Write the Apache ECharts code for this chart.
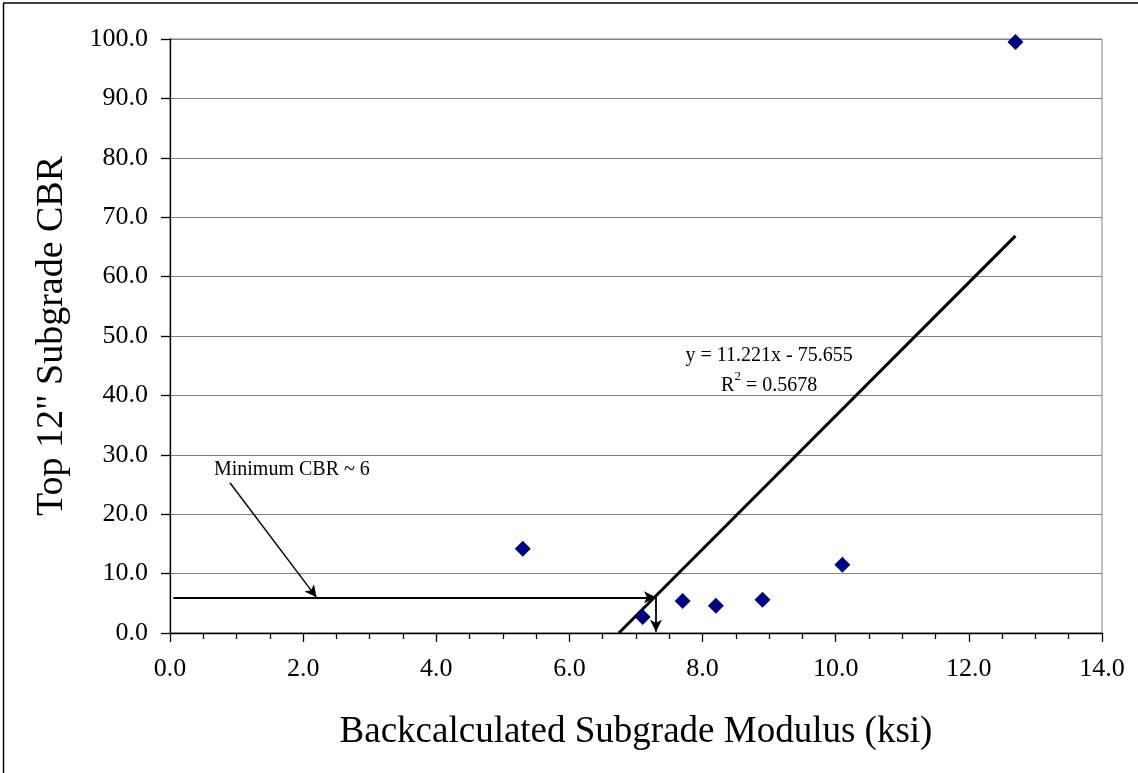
<!DOCTYPE html>
<html>
<head>
<meta charset="utf-8">
<style>
  html, body { margin: 0; padding: 0; background: #fff; }
  #chart { width: 1138px; height: 773px; }
</style>
<script src="https://cdn.jsdelivr.net/npm/echarts@6/dist/echarts.min.js"></script>
</head>
<body>
<div id="chart"></div>
<script>
// ---- data ----
const modulusKsi = [5.3, 7.1, 7.7, 8.2, 8.9, 10.1, 12.7];
const cbrValues  = [14.2, 2.7, 5.4, 4.6, 5.6, 11.5, 99.5];
const trendSlope = 11.221;
const trendIntercept = -75.655;
const trendXEnd = 12.7;
const rSquared = 0.5678;
const minimumCbr = 6;
const minimumCbrModulus = 7.3;
const xAxisTitle = 'Backcalculated Subgrade Modulus (ksi)';
const yAxisTitle = 'Top 12" Subgrade CBR';
const noteText = 'Minimum CBR ~ 6';
const noteArrowStart = [0.9, 25.3];
const noteArrowEnd = [2.2, 6];

const FONT = '"Liberation Serif", "Times New Roman", serif';

const trendXStart = -trendIntercept / trendSlope;
const trendData = [
  [trendXStart, trendSlope * trendXStart + trendIntercept],
  [trendXEnd, trendSlope * trendXEnd + trendIntercept]
];

const chart = echarts.init(document.getElementById('chart'), null, { renderer: 'canvas' });

const option = {
  animation: false,
  backgroundColor: '#ffffff',
  grid: {
    left: 170, right: 36, top: 39, bottom: 140,
    show: true, borderColor: '#808080', borderWidth: 1, backgroundColor: 'transparent'
  },
  xAxis: {
    type: 'value', min: 0, max: 14, interval: 2,
    name: xAxisTitle, nameLocation: 'middle', nameGap: 81,
    nameTextStyle: { fontFamily: FONT, fontSize: 37, color: '#000' },
    axisLine: { show: true, onZero: false, lineStyle: { color: '#000', width: 1.3 } },
    axisTick: { show: true, length: 9, lineStyle: { color: '#000', width: 1.3 } },
    minorTick: { show: true, splitNumber: 4, length: 6, lineStyle: { color: '#000', width: 1.3 } },
    axisLabel: { fontFamily: FONT, fontSize: 26, color: '#000', margin: 23,
      formatter: v => v.toFixed(1) },
    splitLine: { show: false }
  },
  yAxis: {
    type: 'value', min: 0, max: 100, interval: 10,
    name: yAxisTitle, nameLocation: 'middle', nameGap: 99, nameRotate: 90,
    nameTextStyle: { fontFamily: FONT, fontSize: 38, color: '#000' },
    axisLine: { show: true, onZero: false, lineStyle: { color: '#000', width: 1.3 } },
    axisTick: { show: true, length: 9, lineStyle: { color: '#000', width: 1.3 } },
    axisLabel: { fontFamily: FONT, fontSize: 26, color: '#000', margin: 22,
      formatter: v => v.toFixed(1) },
    splitLine: { show: true, lineStyle: { color: '#808080', width: 1 } }
  },
  series: [
    {
      name: 'Trend', type: 'line', data: trendData, showSymbol: false, symbol: 'none',
      lineStyle: { color: '#000', width: 3 }, z: 3, silent: true,
      markLine: {
        silent: true, animation: false,
        label: { show: false },
        lineStyle: { color: '#000', width: 1.8, type: 'solid' },
        symbolSize: [9, 12],
        data: [
          [ { coord: [0.05, minimumCbr], symbol: 'none' },
            { coord: [minimumCbrModulus, minimumCbr], symbol: 'arrow' } ],
          [ { coord: [minimumCbrModulus, minimumCbr], symbol: 'none' },
            { coord: [minimumCbrModulus, 0.2], symbol: 'arrow' } ],
          [ { coord: noteArrowStart, symbol: 'none', lineStyle: { width: 1.4 } },
            { coord: noteArrowEnd, symbol: 'arrow' } ]
        ]
      }
    },
    {
      name: 'CBR', type: 'scatter', symbol: 'diamond', symbolSize: 16,
      itemStyle: { color: '#000080', opacity: 1 },
      data: modulusKsi.map((x, i) => [x, cbrValues[i]]), z: 4
    }
  ]
};

chart.setOption(option);

// annotations positioned through the chart's coordinate system
const eqPos = chart.convertToPixel({ gridIndex: 0 }, [9.0, 44.2]);
const notePos = chart.convertToPixel({ gridIndex: 0 }, [0.66, 27.5]);
const sign = trendIntercept < 0 ? '-' : '+';
chart.setOption({
  graphic: [
    {
      type: 'text', x: eqPos[0], y: eqPos[1], z: 10,
      style: {
        text: 'y = ' + trendSlope.toFixed(3) + 'x ' + sign + ' ' + Math.abs(trendIntercept).toFixed(3) + '\n{r|R}{s|2}{r| = ' + rSquared.toFixed(4) + '}',
        font: '20px ' + FONT, fill: '#000', align: 'center', verticalAlign: 'middle',
        lineHeight: 30,
        rich: {
          r: { fontFamily: FONT, fontSize: 20, lineHeight: 30 },
          s: { fontFamily: FONT, fontSize: 13, verticalAlign: 'top', padding: [0, 0, 10, 0] }
        }
      }
    },
    {
      type: 'text', x: notePos[0], y: notePos[1], z: 10,
      style: { text: noteText, font: '20px ' + FONT, fill: '#000', align: 'left', verticalAlign: 'middle' }
    },
    {
      type: 'line', z: 10, silent: true,
      shape: { x1: 3.5, y1: 3, x2: 3.5, y2: 780 },
      style: { stroke: '#000', lineWidth: 1.5 }
    },
    {
      type: 'line', z: 10, silent: true,
      shape: { x1: 3, y1: 3, x2: 1140, y2: 3 },
      style: { stroke: '#000', lineWidth: 1.5 }
    }
  ]
});
</script>
</body>
</html>
